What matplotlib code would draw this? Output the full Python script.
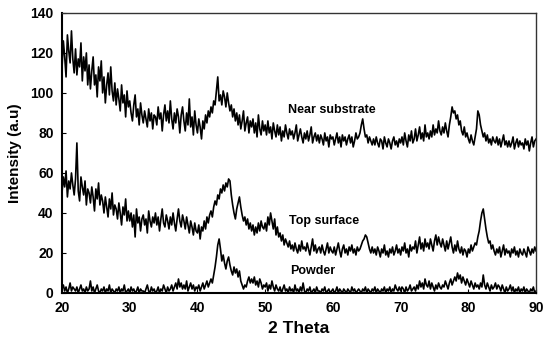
import numpy as np
import matplotlib
matplotlib.use("Agg")
import matplotlib.pyplot as plt

plt.rcParams['font.family'] = ['Liberation Sans', 'DejaVu Sans']

# 2 theta grid, 0.2 deg step from 20 to 90
two_theta = np.linspace(20, 90, 351)

# near substrate trace (a.u), one row per 2 degrees
near_substrate = [
    112, 126, 118, 108, 129, 121, 115, 131, 117, 110,
    122, 109, 117, 113, 125, 106, 118, 111, 120, 104,
    114, 102, 111, 118, 104, 109, 98, 113, 106, 116,
    100, 108, 95, 104, 110, 99, 113, 101, 96, 105,
    94, 102, 97, 91, 104, 95, 99, 88, 101, 93,
    96, 90, 86, 94, 99, 88, 92, 84, 95, 89,
    85, 91, 87, 83, 92, 86, 90, 82, 89, 88,
    84, 93, 87, 90, 81, 89, 94, 86, 91, 85,
    96, 87, 82, 90, 85, 92, 88, 80, 89, 93,
    86, 81, 90, 84, 97, 83, 88, 79, 91, 84,
    80, 87, 83, 77, 86, 82, 89, 85, 91, 88,
    93, 90, 96, 94, 101, 108, 96, 99, 94, 101,
    98, 93, 100, 95, 91, 94, 88, 92, 86, 90,
    84, 89, 82, 86, 91, 81, 85, 88, 80, 86,
    83, 87, 80, 85, 78, 89, 82, 79, 86, 81,
    84, 79, 86, 80, 83, 77, 85, 81, 78, 84,
    79, 83, 76, 81, 78, 84, 80, 77, 82, 79,
    81, 77, 80, 84, 76, 79, 82, 78, 75, 80,
    77, 81, 76, 79, 83, 75, 78, 80, 76, 79,
    75, 79, 77, 74, 80, 76, 78, 73, 79, 77,
    78, 74, 77, 80, 75, 78, 73, 79, 76, 78,
    74, 77, 79, 75, 78, 73, 76, 80, 77, 78,
    80, 84, 87, 82, 78, 79, 75, 78, 76, 74,
    77, 74, 78, 75, 73, 77, 76, 72, 78, 75,
    73, 77, 75, 72, 76, 78, 74, 76, 73, 77,
    75, 78, 74, 80, 76, 73, 79, 76, 81, 75,
    77, 82, 76, 79, 83, 77, 80, 76, 84, 78,
    80, 77, 81, 78, 84, 79, 82, 80, 86, 81,
    79, 83, 80, 85, 81, 78, 84, 88, 93, 90,
    91, 87, 89, 84, 86, 81, 79, 83, 78, 80,
    77, 75, 79, 76, 74, 78, 82, 91, 89, 84,
    81, 78, 80, 76, 79, 75, 77, 74, 78, 76,
    75, 78, 74, 77, 73, 76, 79, 74, 76, 73,
    76, 73, 75, 78, 72, 75, 77, 73, 76, 74,
    75, 72, 77, 74, 76, 71, 75, 78, 73, 76,
    77,
]

# top surface trace
top_surface = [
    50, 58, 53, 61, 48, 56, 52, 60, 54, 49,
    57, 75, 51, 46, 58, 53, 49, 56, 44, 52,
    50, 45, 53, 48, 41, 52, 47, 55, 44, 49,
    46, 40, 48, 43, 38, 47, 42, 50, 39, 44,
    42, 37, 45, 40, 34, 43, 39, 47, 36, 41,
    36, 40, 33, 39, 28, 42, 35, 38, 31, 37,
    39, 34, 37, 30, 41, 36, 33, 38, 35, 40,
    34, 38, 31, 37, 42, 35, 33, 39, 36, 32,
    38, 34, 40, 35, 31, 37, 42, 36, 33, 39,
    36, 32, 38, 34, 30, 36, 33, 29, 35, 31,
    30, 34, 27, 33, 31, 36, 32, 38, 35, 39,
    41, 38, 43, 46, 44, 49, 47, 52, 50, 54,
    51, 55, 53, 57, 56, 49, 44, 40, 37, 42,
    45, 48, 43, 39, 36, 38, 34, 37, 32, 35,
    31, 34, 29, 33, 30, 35, 31, 36, 33, 32,
    35, 31, 38, 34, 40, 36, 32, 37, 29, 33,
    28, 30, 26, 29, 24, 27, 25, 23, 26, 22,
    24, 21, 25, 22, 20, 24, 21, 26, 22, 23,
    21, 25, 22, 19, 23, 27, 21, 24, 20, 22,
    23, 20, 24, 21, 19, 22, 25, 20, 23, 21,
    20, 23, 19, 22, 25, 21, 18, 22, 24, 20,
    22, 19, 23, 21, 24, 20, 22, 19, 23, 21,
    22, 24, 26, 27, 29, 28, 25, 22, 20, 23,
    20, 22, 19, 23, 21, 18, 22, 20, 24, 19,
    21, 18, 22, 20, 23, 19, 21, 24, 20, 22,
    19, 23, 21, 25, 20, 22, 18, 24, 21, 23,
    22, 26, 20, 24, 28, 22, 25, 21, 27, 23,
    25, 22, 27, 24, 21, 26, 29, 24, 28, 25,
    23, 27, 24, 21, 26, 22, 25, 28, 23, 20,
    24, 21, 26, 22, 20, 23, 19, 22, 21, 18,
    22, 20, 24, 21, 23, 25, 24, 28, 31, 36,
    40, 42, 37, 32, 28, 25, 26, 22, 24, 21,
    19, 22, 20, 23, 18, 21, 24, 19, 22, 20,
    21, 18, 22, 20, 23, 19, 21, 18, 22, 20,
    19, 22, 20, 18, 23, 21, 19, 22, 20, 23,
    21,
]

# powder trace
powder = [
    2, 4, 1, 3, 0, 2, 5, 1, 3, 2,
    1, 3, 0, 2, 4, 1, 2, 0, 3, 1,
    2, 6, 1, 3, 0, 2, 4, 1, 0, 2,
    1, 3, 0, 2, 1, 4, 0, 2, 1, 0,
    2, 1, 3, 0, 2, 1, 4, 0, 1, 2,
    0, 3, 1, 2, 0, 1, 3, 0, 2, 1,
    1, 0, 2, 4, 1, 0, 3, 1, 2, 0,
    1, 3, 0, 2, 1, 4, 2, 0, 3, 1,
    2, 4, 1, 3, 5, 2, 7, 3, 5, 2,
    4, 2, 6, 1, 3, 5, 2, 4, 1, 3,
    2, 4, 1, 3, 5, 2, 4, 6, 3, 5,
    7, 5, 9, 13, 18, 24, 27, 22, 16, 19,
    15, 12, 16, 18, 14, 11, 9, 13, 10, 12,
    8, 11, 6, 4, 2, 4, 3, 6, 8, 5,
    7, 5, 8, 4, 6, 3, 7, 5, 2, 4,
    3, 5, 1, 4, 2, 6, 3, 1, 4, 2,
    1, 3, 0, 2, 4, 1, 2, 0, 3, 1,
    2, 0, 4, 1, 2, 0, 3, 1, 5, 1,
    0, 2, 1, 3, 0, 1, 2, 0, 3, 1,
    1, 0, 2, 1, 3, 0, 1, 2, 0, 1,
    2, 0, 1, 3, 0, 2, 1, 0, 2, 1,
    0, 2, 1, 0, 3, 1, 2, 0, 1, 2,
    1, 0, 2, 1, 3, 0, 2, 1, 0, 2,
    1, 3, 0, 2, 1, 0, 2, 1, 3, 0,
    2, 1, 3, 0, 2, 1, 4, 2, 1, 3,
    1, 3, 2, 0, 3, 1, 2, 4, 1, 2,
    3, 1, 4, 2, 6, 3, 5, 2, 7, 4,
    3, 6, 2, 5, 3, 1, 4, 2, 5, 3,
    2, 4, 3, 6, 4, 2, 5, 7, 4, 6,
    8, 6, 10, 7, 9, 5, 8, 6, 4, 7,
    5, 3, 6, 4, 2, 5, 3, 4, 2, 5,
    3, 9, 4, 2, 5, 3, 1, 4, 2, 3,
    5, 2, 4, 3, 1, 4, 2, 0, 3, 1,
    2, 4, 1, 3, 0, 2, 1, 3, 0, 2,
    1, 3, 0, 2, 1, 0, 2, 1, 3, 0,
    1,
]

fig = plt.figure(figsize=(5.5, 3.42), dpi=100)
ax = fig.add_axes([0.1127, 0.1433, 0.862, 0.819])

for trace in (near_substrate, top_surface, powder):
    ax.plot(two_theta, trace, color='black', lw=1.2)

# series labels
ax.text(59.8, 91.5, 'Near substrate', ha='center', va='center', fontsize=9, fontweight='bold')
ax.text(58.7, 36, 'Top surface', ha='center', va='center', fontsize=9, fontweight='bold')
ax.text(57, 11, 'Powder', ha='center', va='center', fontsize=9, fontweight='bold')

ax.set_xlim(20, 90)
ax.set_ylim(0, 140)
ax.set_xticks(range(20, 91, 10))
ax.set_yticks(range(0, 141, 20))
ax.tick_params(direction='in', length=3, labelsize=10, pad=6)
for lbl in ax.get_xticklabels() + ax.get_yticklabels():
    lbl.set_fontweight('bold')

ax.set_xlabel('2 Theta', fontsize=12.5, fontweight='bold', labelpad=4)
ax.set_ylabel('Intensity (a.u)', fontsize=11, fontweight='bold', labelpad=6)

for side in ('left', 'bottom'):
    ax.spines[side].set_linewidth(1.5)
for side in ('top', 'right'):
    ax.spines[side].set_linewidth(1.0)
    ax.spines[side].set_color('#333333')

fig.savefig('out.png', dpi=100)
